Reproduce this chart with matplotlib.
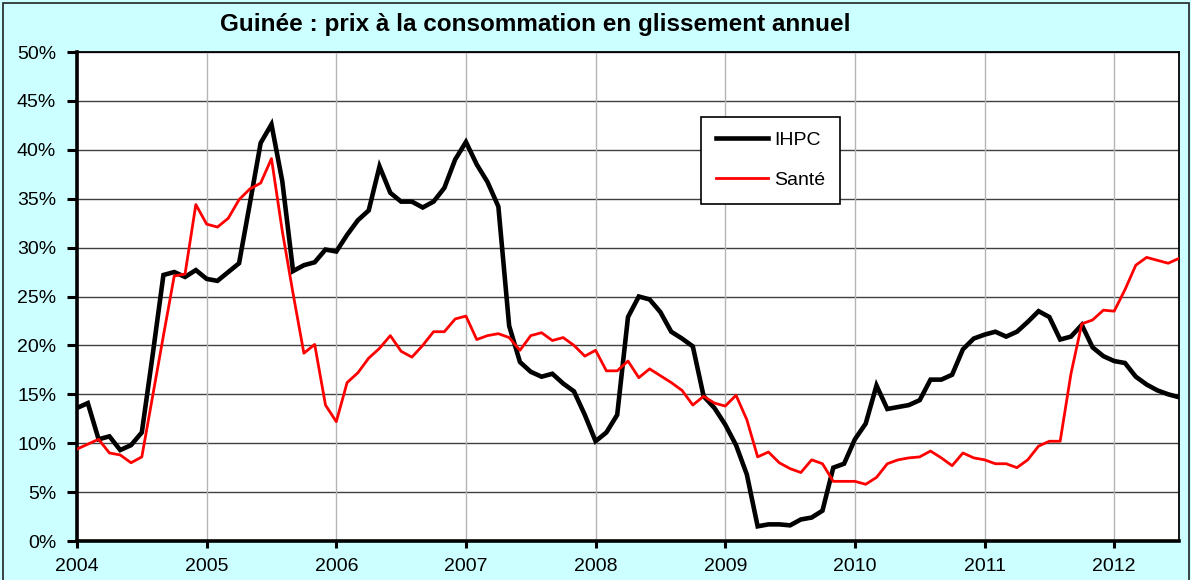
import matplotlib.pyplot as plt
from matplotlib.patches import Rectangle

plt.rcParams['font.family'] = ['Liberation Sans', 'DejaVu Sans']

# monthly values, Jan 2004 .. Jul 2012 (year-on-year, %)
ihpc = [13.6, 14.1, 10.4, 10.7, 9.3, 9.8, 11.1, 19.0, 27.2, 27.5, 27.0, 27.7,
        26.8, 26.6, 27.5, 28.4, 34.5, 40.7, 42.6, 36.8, 27.6, 28.2, 28.5, 29.8,
        29.6, 31.3, 32.8, 33.8, 38.3, 35.6, 34.7, 34.7, 34.1, 34.7, 36.1, 39.0,
        40.8, 38.5, 36.7, 34.2, 22.0, 18.3, 17.3, 16.8, 17.1, 16.1, 15.3, 12.9,
        10.2, 11.1, 12.9, 22.9, 25.0, 24.7, 23.4, 21.4, 20.7, 19.9, 14.8, 13.6,
        11.9, 9.8, 6.8, 1.5, 1.7, 1.7, 1.6, 2.2, 2.4, 3.1, 7.5, 7.9,
        10.4, 12.0, 15.9, 13.5, 13.7, 13.9, 14.4, 16.5, 16.5, 17.0, 19.6, 20.7,
        21.1, 21.4, 20.9, 21.4, 22.4, 23.5, 22.9, 20.6, 20.9, 22.1, 19.8, 18.9,
        18.4, 18.2, 16.8, 16.0, 15.4, 15.0, 14.7]
sante = [9.4, 9.9, 10.4, 9.0, 8.8, 8.0, 8.6, 14.8, 21.0, 27.1, 27.3, 34.4,
         32.4, 32.1, 33.0, 34.9, 36.0, 36.6, 39.1, 31.7, 25.3, 19.2, 20.1, 13.9,
         12.2, 16.2, 17.2, 18.7, 19.7, 21.0, 19.4, 18.8, 20.0, 21.4, 21.4, 22.7,
         23.0, 20.6, 21.0, 21.2, 20.8, 19.5, 21.0, 21.3, 20.5, 20.8, 20.0, 18.9,
         19.5, 17.4, 17.4, 18.4, 16.7, 17.6, 16.9, 16.2, 15.4, 13.9, 14.8, 14.1,
         13.8, 14.9, 12.4, 8.6, 9.1, 8.0, 7.4, 7.0, 8.3, 7.9, 6.1, 6.1,
         6.1, 5.8, 6.5, 7.9, 8.3, 8.5, 8.6, 9.2, 8.5, 7.7, 9.0, 8.5,
         8.3, 7.9, 7.9, 7.5, 8.3, 9.7, 10.2, 10.2, 17.1, 22.2, 22.6, 23.6,
         23.5, 25.7, 28.2, 29.0, 28.7, 28.4, 28.9]
years = ['2004', '2005', '2006', '2007', '2008', '2009', '2010', '2011', '2012']
months = list(range(len(ihpc)))

W, H = 1191, 580
fig = plt.figure(figsize=(W / 100, H / 100), dpi=100, facecolor='#ccffff')
ax = fig.add_axes([77 / W, 1 - 541 / H, (1179 - 77) / W, (541 - 52) / H])
ax.set_facecolor('white')

# outer frame of the chart area
fig.patches.append(Rectangle((3 / W, -0.02), (1189 - 3) / W, 1.02 - 3 / H,
                             transform=fig.transFigure, fill=False,
                             edgecolor='#222222', linewidth=1.2))

for v in range(0, 51, 5):
    ax.axhline(v, color='#404040', linewidth=1.0, zorder=1)
for k in range(len(years)):
    ax.axvline(12 * k, color='#b5b5b5', linewidth=1.0, zorder=1)

ax.plot(months, ihpc, color='black', linewidth=3.3, label='IHPC', zorder=3,
        solid_joinstyle='miter')
ax.plot(months, sante, color='#ff0000', linewidth=2.0, label='Santé', zorder=4)

ax.set_xlim(0, len(ihpc) - 1)
ax.set_ylim(0, 50)
ax.set_yticks(range(0, 51, 5))
ax.set_yticklabels([f'{v}%' for v in range(0, 51, 5)], fontsize=14)
ax.set_xticks([12 * k for k in range(len(years))])
ax.set_xticklabels(years, fontsize=14)
ax.tick_params(axis='y', length=7, width=2.2, pad=8, direction='out')
ax.tick_params(axis='x', length=5, width=2.2, pad=7, direction='out')

for s in ['left', 'bottom']:
    ax.spines[s].set_linewidth(2.6)
for s in ['top', 'right']:
    ax.spines[s].set_linewidth(1.3)

fig.text(535 / W, 1 - 24 / H, 'Guinée : prix à la consommation en glissement annuel',
         ha='center', va='center', fontsize=17.5, fontweight='bold')

leg = ax.legend(loc='upper left', bbox_to_anchor=(701 / W, 1 - 117 / H),
                bbox_transform=fig.transFigure, borderaxespad=0,
                fancybox=False, framealpha=1, edgecolor='black',
                fontsize=14, handlelength=2.7, labelspacing=1.15,
                borderpad=0.75, handletextpad=0.3)
leg.get_frame().set_linewidth(1.2)

fig.savefig('out.png', dpi=100, facecolor=fig.get_facecolor())
